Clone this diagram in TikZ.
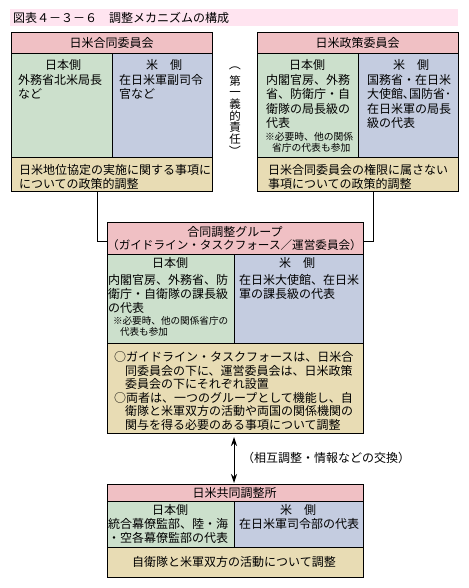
\documentclass[tikz,border=0pt]{standalone}
\usepackage{fontspec}
\newfontfamily\jp{Noto Sans CJK JP}
\usetikzlibrary{arrows.meta}
\definecolor{hpink}{RGB}{240,192,196}
\definecolor{jgreen}{RGB}{204,224,204}
\definecolor{ublue}{RGB}{196,204,224}
\definecolor{ttan}{RGB}{232,220,180}
\definecolor{band}{RGB}{255,228,240}
\tikzset{
  cell/.style={draw=black, line width=0.9pt, inner sep=0pt, outer sep=0pt, anchor=north west},
  lab/.style={font={\jp\fontsize{12}{14}\selectfont}, inner sep=0pt, outer sep=0pt},
  ctr/.style={lab, anchor=center},
  body/.style={lab, anchor=north west, align=left},
  smallbody/.style={font={\jp\fontsize{9.8}{11}\selectfont}, inner sep=0pt, outer sep=0pt, anchor=north west, align=left},
  conn/.style={draw=black, line width=0.9pt},
}
% name, x1, xdiv, x2, y1, y2, y3, y4
\newcommand\jbox[8]{%
  \node[cell, fill=hpink, minimum width={(#4-#2)*1pt}, minimum height={(#6-#5)*1pt}] (#1-h) at (#2,#5) {};
  \node[cell, fill=jgreen, minimum width={(#3-#2)*1pt}, minimum height={(#7-#6)*1pt}] (#1-j) at (#2,#6) {};
  \node[cell, fill=ublue, minimum width={(#4-#3)*1pt}, minimum height={(#7-#6)*1pt}] (#1-u) at (#3,#6) {};
  \node[cell, fill=ttan, minimum width={(#4-#2)*1pt}, minimum height={(#8-#7)*1pt}] (#1-t) at (#2,#7) {};
}
\begin{document}
\begin{tikzpicture}[x=1pt, y=-1pt]
\useasboundingbox (0,0) rectangle (468,588);
\fill[white] (0,0) rectangle (468,588);

% title band
\node[fill=band, inner sep=0pt, outer sep=0pt, minimum width=448pt, minimum height=17pt, anchor=north west] (tband) at (10,9) {};
\node[lab, anchor=west] (title) at (13,18) {図表４－３－６　調整メカニズムの構成};

% boxes
\jbox{b1}{11}{112}{212}{32}{53}{157}{191}
\jbox{b2}{257}{358}{458}{32}{53}{157}{191}
\jbox{b3}{107}{234}{363}{222}{254}{343}{433}
\jbox{b4}{107}{234}{363}{484}{501}{547}{577}

% box 1 texts
\node[ctr] (b1ht) at (111.5,42.5) {日米合同委員会};
\node[ctr] (b1jt) at (63,65) {日本側};
\node[body] (b1jb) at (18,74.5) {外務省北米局長\\など};
\node[ctr] (b1ut) at (164,65) {米　側};
\node[body] (b1ub) at (119,74.5) {在日米軍副司令\\官など};
\node[body, font={\jp\fontsize{12}{13.5}\selectfont}] (b1tt) at (19,164.5) {日米地位協定の実施に関する事項に\\についての政策的調整};

% box 2 texts
\node[ctr] (b2ht) at (357.5,42.5) {日米政策委員会};
\node[ctr] (b2jt) at (307,65) {日本側};
\node[body, font={\jp\fontsize{12}{14.3}\selectfont}] (b2jb) at (266,74.5) {内閣官房、外務\\省、防衛庁・自\\衛隊の局長級の\\代表};
\node[smallbody] (b2js) at (265,132.5) {※必要時、他の関係\\\hspace*{7pt}省庁の代表も参加};
\node[ctr] (b2ut) at (411,65) {米　側};
\node[body, font={\jp\fontsize{12}{14.3}\selectfont}] (b2ub) at (367,74.5) {国務省・在日米\\大使館､国防省･\\在日米軍の局長\\級の代表};
\node[body, font={\jp\fontsize{12}{13.5}\selectfont}] (b2tt) at (268,164.5) {日米合同委員会の権限に属さない\\事項についての政策的調整};

% vertical note
\node[lab, anchor=center, align=center, font={\jp\fontsize{11.5}{11.7}\selectfont}] (vnote) at (235,110) {第\\一\\義\\的\\責\\任};
\node[lab] (vpl) at (235,65) {\rotatebox{-90}{（}};
\node[lab] (vpr) at (235,152) {\rotatebox{-90}{）}};

% box 3 texts
\node[ctr] (b3ht1) at (235,232) {合同調整グループ};
\node[ctr, font={\jp\fontsize{11.6}{13}\selectfont}] (b3ht2) at (234.5,245) {（ガイドライン・タスクフォース／運営委員会）};
\node[ctr] (b3jt) at (170,263) {日本側};
\node[body] (b3jb) at (108,274.5) {内閣官房、外務省、防\\衛庁・自衛隊の課長級\\の代表};
\node[smallbody, font={\jp\fontsize{9.6}{11}\selectfont}] (b3js) at (113,316.5) {※必要時、他の関係省庁の\\\hspace*{7pt}代表も参加};
\node[ctr] (b3ut) at (297,263) {米　側};
\node[body] (b3ub) at (239,274.5) {在日米大使館、在日米\\軍の課長級の代表};
\node[body, font={\jp\fontsize{12}{13.6}\selectfont}] (b3tt) at (114,351.5) {○ガイドライン・タスクフォースは、日米合\\\hspace*{11pt}同委員会の下に、運営委員会は、日米政策\\\hspace*{11pt}委員会の下にそれぞれ設置\\○両者は、一つのグループとして機能し、自\\\hspace*{11pt}衛隊と米軍双方の活動や両国の関係機関の\\\hspace*{11pt}関与を得る必要のある事項について調整};

% box 4 texts
\node[ctr] (b4ht) at (234.5,492.5) {日米共同調整所};
\node[ctr] (b4jt) at (170,510) {日本側};
\node[body] (b4jb) at (108,518.5) {統合幕僚監部、陸・海\\・空各幕僚監部の代表};
\node[ctr] (b4ut) at (298,510) {米　側};
\node[body] (b4ub) at (239,518.5) {在日米軍司令部の代表};
\node[ctr] (b4tt) at (234,562) {自衛隊と米軍双方の活動について調整};

% connectors
\path (b1-t.south west) ++(86,0) coordinate (c1);
\path (b2-t.south west) ++(116,0) coordinate (c2);
\draw[conn] (c1) |- ([yshift=-3pt]b3-h.west);
\draw[conn] (c2) |- ([yshift=-3pt]b3-h.east);
\draw[conn, {Stealth[length=9pt,width=6pt]}-{Stealth[length=9pt,width=6pt]}] ([xshift=-1pt,yshift=-4pt]b3-t.south) -- ([xshift=-1pt,yshift=1pt]b4-h.north);
\node[lab, anchor=west] (xlbl) at (242,458) {（相互調整・情報などの交換）};
\end{tikzpicture}
\end{document}
